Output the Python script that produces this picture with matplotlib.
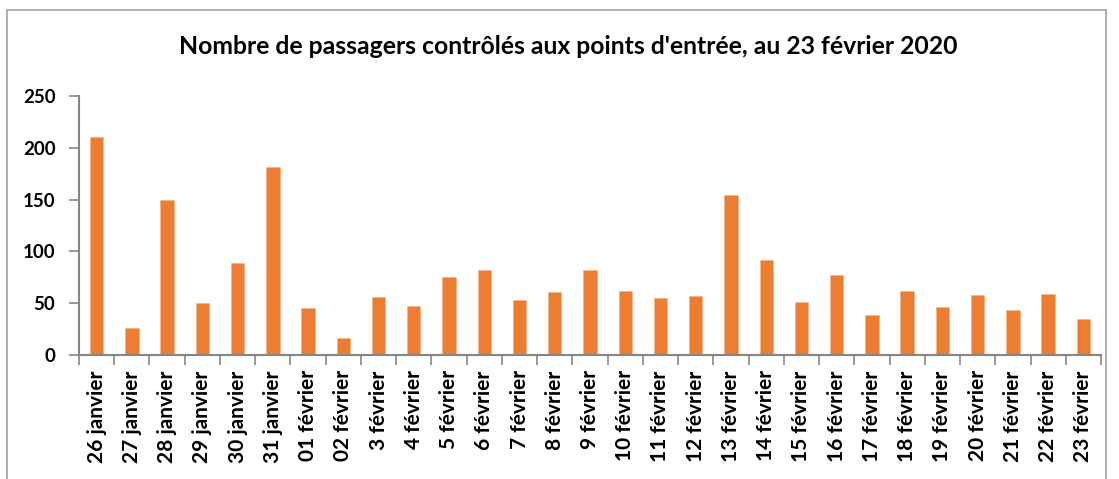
import matplotlib
matplotlib.use('Agg')
import matplotlib.pyplot as plt
from matplotlib.patches import Rectangle
import numpy as np

# data
dates = ['26 janvier', '27 janvier', '28 janvier', '29 janvier', '30 janvier',
         '31 janvier', '01 février', '02 février', '3 février', '4 février',
         '5 février', '6 février', '7 février', '8 février', '9 février',
         '10 février', '11 février', '12 février', '13 février', '14 février',
         '15 février', '16 février', '17 février', '18 février', '19 février',
         '20 février', '21 février', '22 février', '23 février']
passagers = [210, 26, 150, 50, 89, 181, 45, 16, 56, 47,
             75, 82, 53, 61, 82, 62, 55, 57, 154, 92,
             51, 77, 39, 62, 46, 58, 43, 59, 35]
y_ticks = [0, 50, 100, 150, 200, 250]

W, H = 1119, 479
plt.rcParams['font.family'] = ['Lato', 'DejaVu Sans']
fig = plt.figure(figsize=(W / 100, H / 100), dpi=100)
ax = fig.add_axes([79 / W, 1 - 355 / H, (1101 - 79) / W, (355 - 96) / H])

gray = '#868686'
x = np.arange(len(dates))
ax.bar(x, passagers, width=0.38, color='#ED7D31', edgecolor='#F4B183', linewidth=0.4)

ax.set_xlim(-0.5, len(dates) - 0.5)
ax.set_ylim(0, 250)
ax.set_yticks(y_ticks)
ax.set_yticklabels([str(v) for v in y_ticks], fontsize=13.5, fontweight='bold')
ax.set_xticks(x)
ax.set_xticklabels(dates, rotation=90, fontsize=15, fontweight='bold')
ax.set_xticks(np.arange(len(dates) + 1) - 0.5, minor=True)
ax.tick_params(axis='x', which='major', length=0, pad=11)
ax.tick_params(axis='x', which='minor', length=7, width=1.2, color=gray)
ax.tick_params(axis='y', length=7, width=1.2, color=gray, pad=10)

for side in ['top', 'right']:
    ax.spines[side].set_visible(False)
for side in ['left', 'bottom']:
    ax.spines[side].set_color(gray)
    ax.spines[side].set_linewidth(1.5)

fig.text(568 / W, 1 - 47 / H, "Nombre de passagers contrôlés aux points d'entrée, au 23 février 2020",
         ha='center', va='center', fontsize=17.8, fontweight='bold')

# outer chart frame
fig.patches.append(Rectangle((7 / W, -0.1), (1106 - 7) / W, 1.1 - 10 / H,
                             transform=fig.transFigure, fill=False,
                             edgecolor='#A0A0A0', linewidth=1.2))

fig.savefig('out.png', dpi=100)
